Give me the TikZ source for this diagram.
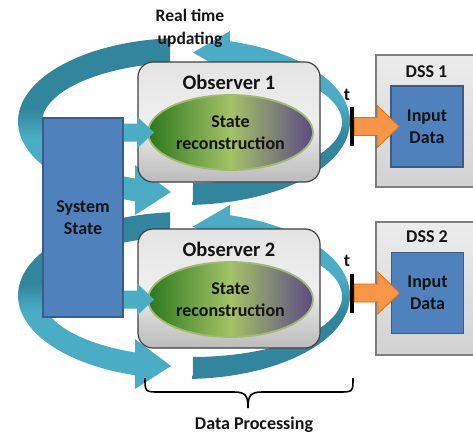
\documentclass[tikz,border=0pt]{standalone}
\usepackage{fontspec}
\setmainfont{Carlito}
\usetikzlibrary{shapes.geometric,calc}
\definecolor{ringlite}{HTML}{4BACC6}
\definecolor{ringdark}{HTML}{31859C}
\definecolor{sysblue}{HTML}{4F81BD}
\definecolor{sysedge}{HTML}{385D8A}
\definecolor{eleft}{HTML}{2B781C}
\definecolor{emid}{HTML}{A5C266}
\definecolor{eright}{HTML}{5C4A86}
\definecolor{eedge}{HTML}{A3B96B}
\definecolor{orangefill}{HTML}{F79646}
\definecolor{orangeedge}{HTML}{E46C0A}
\definecolor{obstop}{HTML}{E4E4E4}
\definecolor{obsmid}{HTML}{EFEFEF}
\definecolor{obsbot}{HTML}{BBBBBB}
\definecolor{dsstop}{HTML}{ECECEC}
\definecolor{dssbot}{HTML}{D2D2D2}
\definecolor{dssedge}{HTML}{7F7F7F}
\definecolor{txt}{HTML}{141414}
\pgfdeclareverticalshading{ringA}{100bp}{color(0bp)=(ringdark); color(44bp)=(ringdark); color(54bp)=(ringlite); color(100bp)=(ringlite)}
\pgfdeclareverticalshading{ringB}{100bp}{color(0bp)=(ringlite); color(47bp)=(ringlite); color(55bp)=(ringdark); color(100bp)=(ringdark)}
\tikzset{
  lbl/.style={font=\bfseries\fontsize{18pt}{22pt}\selectfont, text=txt, align=center, inner sep=0pt},
  obslbl/.style={font=\bfseries\fontsize{20.5pt}{24pt}\selectfont, text=txt, inner sep=0pt},
  obsbox/.style={draw=black!75, line width=1.2pt, rounded corners=15pt, top color=obstop, bottom color=obsbot, middle color=obsmid, minimum width=182pt, inner sep=0pt},
  ell/.style={ellipse, draw=eedge, line width=1.8pt, left color=eleft, right color=eright, middle color=emid, minimum width=165pt, minimum height=75pt, inner sep=0pt, lbl},
  sysbox/.style={rectangle, fill=sysblue, draw=sysedge, line width=1.5pt, minimum width=80pt, minimum height=199pt, lbl},
  dssbox/.style={rectangle, draw=dssedge, line width=1.5pt, top color=dsstop, bottom color=dssbot, minimum width=109pt, inner sep=0pt},
  inbox/.style={rectangle, fill=sysblue, draw=sysedge, line width=1.5pt, minimum width=72pt, minimum height=81pt, lbl},
  tbar/.style={rectangle, fill=black, minimum width=4pt, minimum height=39pt, inner sep=0pt},
  oarrow/.style={fill=orangefill, draw=orangeedge, line width=0.8pt, line join=miter},
  feed/.style={fill=ringlite},
  bracepath/.style={draw=black, line width=1.6pt}
}
\begin{document}
\begin{tikzpicture}[x=1pt,y=-1pt]
\useasboundingbox (0,0) rectangle (473,437);
\clip (0,0) rectangle (473,437);
% rotating bands
\foreach \dy in {174,0} {
\begin{scope}[shift={(0,\dy)}]
\shade[shading=ringA] (192.69,204.89) arc[start angle=87,end angle=-74,x radius=166,y radius=83.5] -- (230,31) -- (193,52.5) -- (230,74) -- (230.06,63.98) arc[start angle=-75.3,end angle=89.6,x radius=150,y radius=60.5] -- cycle;
\shade[shading=ringB] (170.11,38.29) arc[start angle=265.2,end angle=107.2,x radius=166,y radius=83.5] -- (135,215) -- (171,192) -- (135,165) -- (135.01,178.46) arc[start angle=112.33,end angle=261.6,x radius=150,y radius=60.5] -- cycle;
\end{scope}
}
% system state
\node[sysbox] (sys) at (83,217.5) {System\\State};
% observers
\node[obsbox, minimum height=120pt] (obs1) at (229,122) {};
\node[obslbl] (obs1t) at (229,82) {Observer 1};
\node[ell] (ell1) at (230.5,132.5) {State\\reconstruction};
\node[obsbox, minimum height=119pt] (obs2) at (229,288.5) {};
\node[obslbl] (obs2t) at (229,249) {Observer 2};
\node[ell] (ell2) at (230.5,299.5) {State\\reconstruction};
% feed arrows
\coordinate (s1) at (sys.east |- ell1.west);
\coordinate (s2) at (sys.east |- ell2.west);
\fill[feed] ($(s1)+(0,-9)$) -- ($(ell1.west)+(-10,-9)$) -- ($(ell1.west)+(-10,-16)$) -- ($(ell1.west)+(7,0)$) -- ($(ell1.west)+(-10,16)$) -- ($(ell1.west)+(-10,9)$) -- ($(s1)+(0,9)$) -- cycle;
\fill[feed] ($(s2)+(0,-9)$) -- ($(ell2.west)+(-10,-9)$) -- ($(ell2.west)+(-10,-16)$) -- ($(ell2.west)+(7,0)$) -- ($(ell2.west)+(-10,16)$) -- ($(ell2.west)+(-10,9)$) -- ($(s2)+(0,9)$) -- cycle;
% DSS boxes
\node[dssbox, minimum height=132pt] (dss1) at (430.5,121) {};
\node[lbl] (dss1t) at (426.5,72) {DSS 1};
\node[inbox] (in1) at (427,126.5) {Input\\Data};
\node[dssbox, minimum height=133pt] (dss2) at (430.5,288.5) {};
\node[lbl] (dss2t) at (427,237) {DSS 2};
\node[inbox] (in2) at (427.5,293) {Input\\Data};
% time bars
\node[tbar] (bar1) at (352,126.5) {};
\node[tbar] (bar2) at (352,293) {};
\node[lbl] (t1) at (347,95) {t};
\node[lbl] (t2) at (347,261) {t};
% orange arrows
\filldraw[oarrow] ($(bar1.east)+(0,-9)$) -- ($(in1.west)+(-13,-9)$) -- ($(in1.west)+(-13,-21)$) -- ($(in1.west)+(9,0)$) -- ($(in1.west)+(-13,21)$) -- ($(in1.west)+(-13,9)$) -- ($(bar1.east)+(0,9)$) -- cycle;
\filldraw[oarrow] ($(bar2.east)+(0,-9)$) -- ($(in2.west)+(-13,-9)$) -- ($(in2.west)+(-13,-21)$) -- ($(in2.west)+(9,0)$) -- ($(in2.west)+(-13,21)$) -- ($(in2.west)+(-13,9)$) -- ($(bar2.east)+(0,9)$) -- cycle;
% labels
\node[lbl, font=\bfseries\fontsize{17.5pt}{23pt}\selectfont] (rt) at (190,28.5) {Real time\\updating};
\node[lbl] (dp) at (254,425) {Data Processing};
\draw[bracepath] (145,378) .. controls (145,392) and (145,392) .. (160,392) -- (234,392) .. controls (246,392) and (248,396) .. (248,408) .. controls (248,396) and (250,392) .. (262,392) -- (338,392) .. controls (353,392) and (353,392) .. (353,378);
\end{tikzpicture}
\end{document}
